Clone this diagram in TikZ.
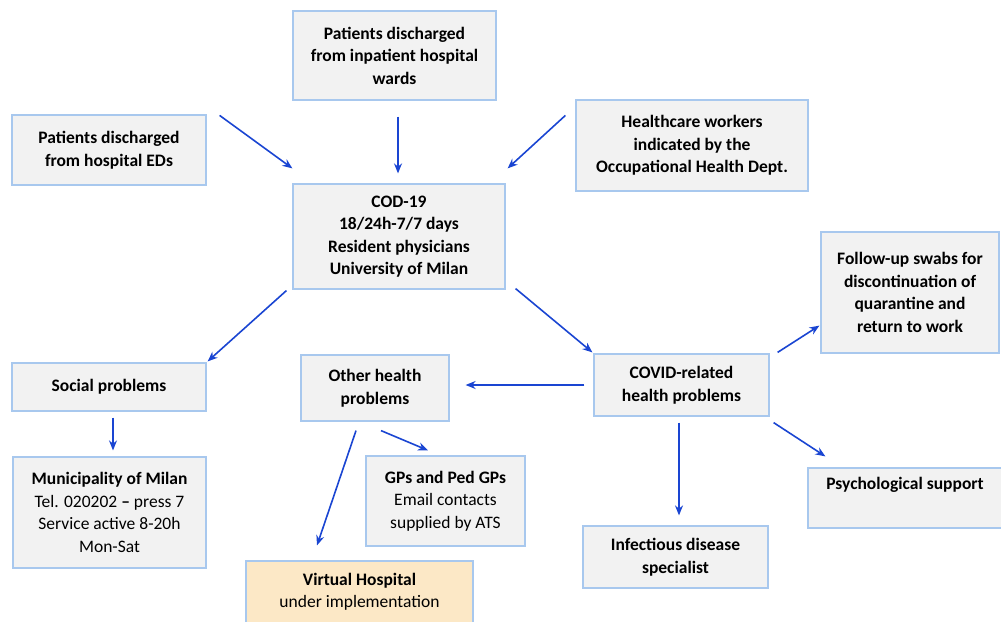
\documentclass[tikz,border=0pt]{standalone}
\usepackage{fontspec}
\setmainfont{Carlito}
\usetikzlibrary{calc,arrows.meta}
\definecolor{boxfill}{HTML}{F2F2F2}
\definecolor{boxline}{HTML}{A8C8EE}
\definecolor{warmfill}{HTML}{FCE8C6}
\definecolor{arrowblue}{HTML}{1A45D2}
\tikzset{
  fbox/.style={draw=boxline, fill=boxfill, line width=1.2pt, align=center, inner sep=0pt,
    font=\fontsize{17.5}{22.5}\selectfont\bfseries},
  warmbox/.style={fbox, fill=warmfill},
  conn/.style={draw=arrowblue, line width=1.6pt, -{Stealth[length=10pt,width=8pt]}}
}
\newcommand{\rg}[1]{{\mdseries #1}}
\begin{document}
\begin{tikzpicture}[x=1pt,y=-1pt]
\useasboundingbox (0,0) rectangle (1001,621);
\clip (0,0) rectangle (1001,621);
\node[fbox, minimum width=203pt, minimum height=89pt] (inpat) at (394.5,55.5) {Patients discharged\\from inpatient hospital\\wards};
\node[fbox, minimum width=194pt, minimum height=70pt] (eds) at (109,150) {Patients discharged\\from hospital EDs};
\node[fbox, minimum width=232pt, minimum height=91pt] (hcw) at (692,145.5) {Healthcare workers\\indicated by the\\Occupational Health Dept.};
\node[fbox, minimum width=212pt, minimum height=105pt] (cod) at (399,236.5) {COD-19\\18/24h-7/7 days\\Resident physicians\\University of Milan};
\node[fbox, minimum width=178pt, minimum height=121pt] (swab) at (910,292.5) {Follow-up swabs for\\discontinuation of\\quarantine and\\return to work};
\node[fbox, minimum width=194pt, minimum height=48pt] (social) at (109,387) {Social problems};
\node[fbox, minimum width=148pt, minimum height=66pt] (other) at (375,388) {Other health\\problems};
\node[fbox, minimum width=175pt, minimum height=62pt] (covid) at (681.5,385) {COVID-related\\health problems};
\node[fbox, minimum width=193pt, minimum height=111pt] (muni) at (109.5,512.5) {Municipality of Milan\\\rg{Tel. 020202 \textbf{--} press 7}\\\rg{Service active 8-20h}\\\rg{Mon-Sat}};
\node[fbox, minimum width=159pt, minimum height=90pt] (gps) at (445.5,501) {GPs and Ped GPs\\\rg{Email contacts}\\\rg{supplied by ATS}};
\node[warmbox, minimum width=227pt, minimum height=62pt] (virt) at (359.5,592) {Virtual Hospital\\\rg{under implementation}};
\node[fbox, minimum width=185pt, minimum height=62pt] (inf) at (675.5,557) {Infectious disease\\specialist};
\node[fbox, minimum width=194pt, minimum height=60pt] (psych) at (905,498) {Psychological support\\\strut};

\draw[conn] ($(eds.north east)+(13,1)$) -- ($(cod.north west)+(0,-15)$);
\draw[conn] ($(inpat.south)+(3.5,16)$) -- ($(cod.north)+(-1,-10)$);
\draw[conn] ($(hcw.north west)+(-10,16)$) -- ($(cod.north east)+(2,-15)$);
\draw[conn] ($(cod.south west)+(-6,1)$) -- ($(social.north east)+(1,-1)$);
\draw[conn] ($(cod.south east)+(10,-1)$) -- ($(covid.north west)+(-1,-1)$);
\draw[conn] ($(covid.west)+(-9,0)$) -- ($(other.east)+(16,-3)$);
\draw[conn] ($(social.south)+(4,6)$) -- ($(muni.north)+(3.5,-6)$);
\draw[conn] ($(other.south)+(-19,9)$) -- ($(virt.north)+(-42.5,-15)$);
\draw[conn] ($(other.south)+(6,9)$) -- ($(gps.north)+(-17.5,-5)$);
\draw[conn] ($(covid.north east)+(8,-1)$) -- ($(swab.south west)+(-1,-28)$);
\draw[conn] ($(covid.south)+(-2.5,6)$) -- ($(inf.north)+(3.5,-10)$);
\draw[conn] ($(covid.south east)+(4,6)$) -- ($(psych.north west)+(18,-11)$);
\end{tikzpicture}
\end{document}
